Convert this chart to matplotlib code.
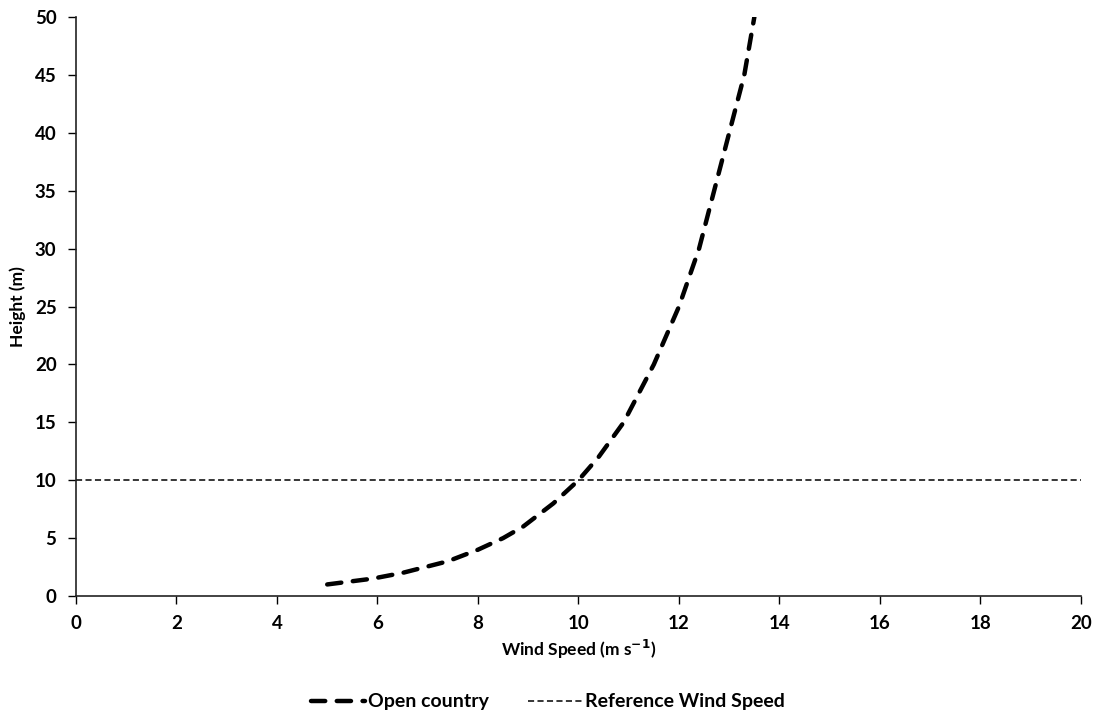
import matplotlib
matplotlib.use("Agg")
import matplotlib.pyplot as plt

# Data
heights = [1, 1.5, 2, 3, 4, 5, 6, 8, 10, 12, 15, 20, 25, 30, 35, 40, 45, 50]
open_country = [5.0, 5.9, 6.5, 7.4, 8.0, 8.5, 8.9, 9.5, 10.0, 10.4, 10.9, 11.5, 12.0, 12.4, 12.7, 13.0, 13.3, 13.5]
ref_x = [0, 20]
ref_height = [10, 10]

xticks = list(range(0, 21, 2))
yticks = list(range(0, 51, 5))

plt.rcParams['font.family'] = ['Lato', 'DejaVu Sans']
plt.rcParams['font.weight'] = 'bold'

fig = plt.figure(figsize=(10.96, 7.15), dpi=100)
ax = fig.add_axes([0.0693, 0.1664, 0.9170, 0.8098])

ax.plot(open_country, heights, color='black', lw=3.2, dashes=(3.2, 2.6),
        dash_capstyle='round', label='Open country')
ax.plot(ref_x, ref_height, color='black', lw=1.1, dashes=(4, 2.2),
        label='Reference Wind Speed')

ax.set_xlim(0, 20)
ax.set_ylim(0, 50)
ax.set_xticks(xticks)
ax.set_yticks(yticks)
for s in ['top', 'right']:
    ax.spines[s].set_visible(False)
for s in ['left', 'bottom']:
    ax.spines[s].set_linewidth(1.2)
    ax.spines[s].set_color('#222222')
ax.tick_params(direction='out', length=6, width=1.0, labelsize=13.5, pad=8)
for lab in ax.get_xticklabels() + ax.get_yticklabels():
    lab.set_fontweight('bold')

ax.set_xlabel('Wind Speed (m s$^{\\mathbf{-1}}$)', fontsize=12.5, fontweight='bold', labelpad=4)
ax.set_ylabel('Height (m)', fontsize=12.5, fontweight='bold', labelpad=6)

leg = fig.legend(loc='lower center', bbox_to_anchor=(0.5, -0.018), ncol=2, frameon=False,
                 prop={'size': 14, 'weight': 'bold'}, handlelength=2.8, handletextpad=0.15,
                 columnspacing=2.0)

fig.savefig('out.png', dpi=100)
